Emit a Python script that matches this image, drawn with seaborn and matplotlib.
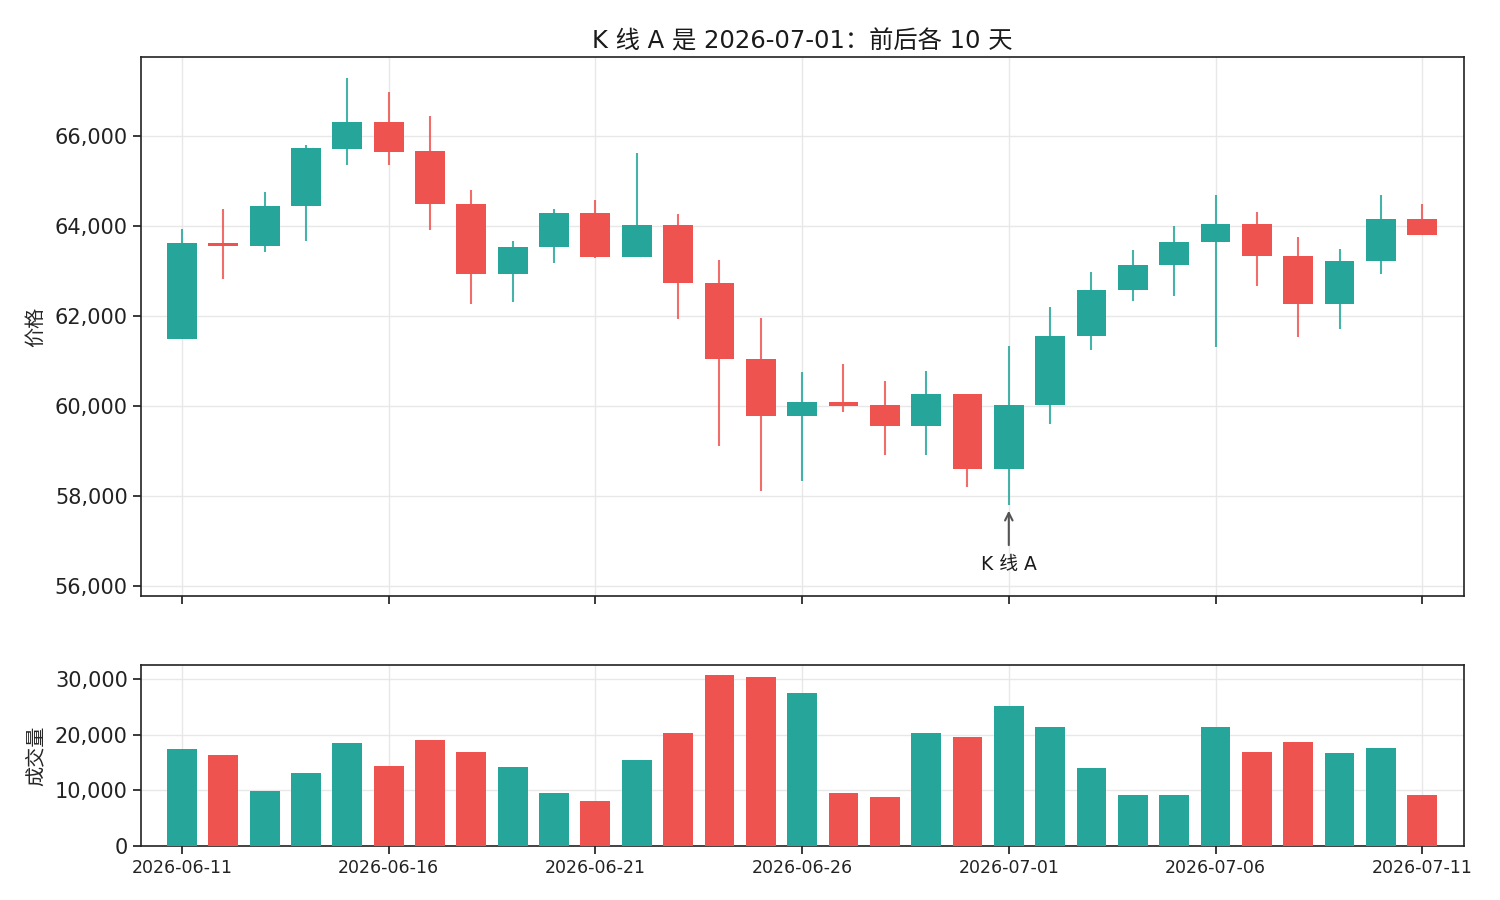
import numpy as np
import pandas as pd
import seaborn as sns
import matplotlib.pyplot as plt
import matplotlib.dates as mdates

# K-line data, 2026-06-11 .. 2026-07-11
dates = pd.date_range("2026-06-11", "2026-07-11", freq="D")
open_ = [61490, 63615, 63556, 64430, 65710, 66304, 65650, 64481, 62926, 63526,
         64289, 63295, 64022, 62716, 61047, 59778, 60082, 60005, 59555, 60260,
         58598, 60010, 61548, 62570, 63126, 63637, 64037, 63326, 62259, 63215,
         64148]
close = [63615, 63556, 64437, 65726, 66304, 65637, 64481, 62926, 63526, 64281,
         63295, 64022, 62716, 61047, 59778, 60082, 60000, 59555, 60260, 58598,
         60015, 61548, 62570, 63126, 63637, 64037, 63326, 62259, 63215, 64148,
         63793]
high = [63926, 64370, 64748, 65793, 67281, 66970, 66437, 64793, 63659, 64370,
        64579, 65625, 64267, 63243, 61945, 60750, 60928, 60550, 60772, 60260,
        61329, 62193, 62970, 63459, 63993, 64681, 64304, 63748, 63481, 64681,
        64481]
low = [61489, 62815, 63415, 63659, 65348, 65348, 63904, 62259, 62304, 63170,
       63273, 63295, 61930, 59110, 58109, 58331, 59867, 58910, 58910, 58198,
       57790, 59593, 61237, 62326, 62437, 61304, 62659, 61526, 61704, 62926,
       63793]
volume = [17400, 16320, 9840, 13080, 18480, 14340, 19020, 16860, 14160, 9480,
          8040, 15420, 20280, 30720, 30360, 27480, 9480, 8760, 20280, 19560,
          25140, 21360, 13980, 9120, 9120, 21360, 16860, 18660, 16680, 17580,
          9120]

up_color = "#26a69a"
down_color = "#ef5350"

df = pd.DataFrame({"date": dates, "open": open_, "close": close,
                   "high": high, "low": low, "volume": volume})
df["x"] = mdates.date2num(df["date"])
df["dir"] = np.where(df["close"] >= df["open"], "up", "down")
colors = np.where(df["dir"] == "up", up_color, down_color)

sns.set_theme(style="ticks")
plt.rcParams["font.family"] = ["DejaVu Sans", "Noto Sans CJK SC"]
plt.rcParams["axes.edgecolor"] = "#222222"
plt.rcParams["axes.linewidth"] = 1.2
plt.rcParams["text.color"] = "#1a1a1a"
plt.rcParams["xtick.color"] = "#222222"
plt.rcParams["ytick.color"] = "#222222"

fig = plt.figure(figsize=(15, 9), dpi=100)
ax1 = fig.add_axes([0.094, 0.3378, 0.882, 0.5989])
ax2 = fig.add_axes([0.094, 0.06, 0.882, 0.201], sharex=ax1)

# candles: wicks then bodies
ax1.vlines(df["x"], df["low"], df["high"], colors=colors, lw=1.5, alpha=0.85, zorder=2)
body_lo = np.minimum(df["open"], df["close"])
body_h = np.abs(df["close"] - df["open"])
ax1.bar(df["x"], body_h, bottom=body_lo, width=0.72, color=colors, lw=0, zorder=3)

ax1.set_title("K 线 A 是 2026-07-01：前后各 10 天", fontsize=17.5, pad=6)
ax1.set_ylabel("价格", fontsize=14.5, labelpad=7)
ax1.set_ylim(55770, 67750)
ax1.set_yticks([56000, 58000, 60000, 62000, 64000, 66000])
ax1.yaxis.set_major_formatter(plt.FuncFormatter(lambda v, p: f"{v:,.0f}"))
ax1.grid(True, color="#e6e6e6", lw=1, alpha=0.9)
ax1.tick_params(labelbottom=False, labelsize=15)

# marker for K-line A
a = df[df["date"] == "2026-07-01"].iloc[0]
ax1.annotate("K 线 A", xy=(a["x"], a["low"]), xytext=(0, -43), textcoords="offset points",
             ha="center", va="center", fontsize=13.5,
             arrowprops=dict(arrowstyle="->", color="#555555", lw=1.5, shrinkA=5, shrinkB=4))

# volume
sns.barplot(data=df, x="x", y="volume", hue="dir", palette={"up": up_color, "down": down_color},
            native_scale=True, dodge=False, width=0.72, saturation=1, legend=False, ax=ax2,
            linewidth=0, edgecolor="none", zorder=3)
ax2.set_ylabel("成交量", fontsize=14.5, labelpad=7)
ax2.set_xlabel("")
ax2.set_ylim(0, 32500)
ax2.set_yticks([0, 10000, 20000, 30000])
ax2.yaxis.set_major_formatter(plt.FuncFormatter(lambda v, p: f"{v:,.0f}"))
ax2.grid(True, color="#e6e6e6", lw=1, alpha=0.9)
ax2.tick_params(axis="y", labelsize=15)
ax2.tick_params(axis="x", labelsize=12.5)

ax2.set_xticks(df["x"][::5])
ax2.xaxis.set_major_formatter(mdates.DateFormatter("%Y-%m-%d"))
ax2.set_xlim(df["x"].iloc[0] - 0.99, df["x"].iloc[-1] + 1.01)
for ax in (ax1, ax2):
    ax.set_axisbelow(True)

fig.savefig("out.png", dpi=100)
